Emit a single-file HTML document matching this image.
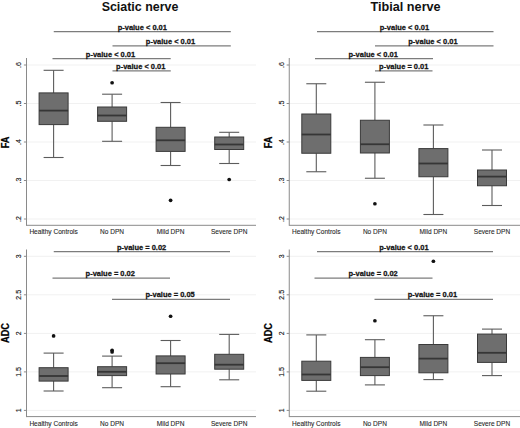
<!DOCTYPE html>
<html><head><meta charset="utf-8"><style>
html,body{margin:0;padding:0;background:#fff;}
svg{display:block;font-family:"Liberation Sans",sans-serif;}
</style></head><body>
<svg width="520" height="428" viewBox="0 0 520 428">
<rect width="520" height="428" fill="#fff"/>
<line x1="27.0" y1="65.0" x2="256" y2="65.0" stroke="#f1f1f1" stroke-width="1"/>
<line x1="23.9" y1="65.0" x2="26.5" y2="65.0" stroke="#8a8a8a" stroke-width="1"/>
<text x="21.1" y="65.0" font-size="7" font-weight="normal" text-anchor="middle" fill="#222" stroke="#222" stroke-width="0.15" transform="rotate(-90 21.1 65.0)">.6</text>
<line x1="27.0" y1="103.5" x2="256" y2="103.5" stroke="#f1f1f1" stroke-width="1"/>
<line x1="23.9" y1="103.5" x2="26.5" y2="103.5" stroke="#8a8a8a" stroke-width="1"/>
<text x="21.1" y="103.5" font-size="7" font-weight="normal" text-anchor="middle" fill="#222" stroke="#222" stroke-width="0.15" transform="rotate(-90 21.1 103.5)">.5</text>
<line x1="27.0" y1="142.0" x2="256" y2="142.0" stroke="#f1f1f1" stroke-width="1"/>
<line x1="23.9" y1="142.0" x2="26.5" y2="142.0" stroke="#8a8a8a" stroke-width="1"/>
<text x="21.1" y="142.0" font-size="7" font-weight="normal" text-anchor="middle" fill="#222" stroke="#222" stroke-width="0.15" transform="rotate(-90 21.1 142.0)">.4</text>
<line x1="27.0" y1="180.5" x2="256" y2="180.5" stroke="#f1f1f1" stroke-width="1"/>
<line x1="23.9" y1="180.5" x2="26.5" y2="180.5" stroke="#8a8a8a" stroke-width="1"/>
<text x="21.1" y="180.5" font-size="7" font-weight="normal" text-anchor="middle" fill="#222" stroke="#222" stroke-width="0.15" transform="rotate(-90 21.1 180.5)">.3</text>
<line x1="27.0" y1="219.0" x2="256" y2="219.0" stroke="#f1f1f1" stroke-width="1"/>
<line x1="23.9" y1="219.0" x2="26.5" y2="219.0" stroke="#8a8a8a" stroke-width="1"/>
<text x="21.1" y="219.0" font-size="7" font-weight="normal" text-anchor="middle" fill="#222" stroke="#222" stroke-width="0.15" transform="rotate(-90 21.1 219.0)">.2</text>
<line x1="26.5" y1="58" x2="26.5" y2="225.8" stroke="#8a8a8a" stroke-width="1"/>
<line x1="26.5" y1="225.3" x2="256" y2="225.3" stroke="#8a8a8a" stroke-width="1"/>
<text x="53.6" y="234.3" font-size="6.55" font-weight="normal" text-anchor="middle" fill="#2a2a2a" stroke="#2a2a2a" stroke-width="0.1" >Healthy Controls</text>
<text x="112.1" y="234.3" font-size="6.55" font-weight="normal" text-anchor="middle" fill="#2a2a2a" stroke="#2a2a2a" stroke-width="0.1" >No DPN</text>
<text x="170.6" y="234.3" font-size="6.55" font-weight="normal" text-anchor="middle" fill="#2a2a2a" stroke="#2a2a2a" stroke-width="0.1" >Mild DPN</text>
<text x="229.2" y="234.3" font-size="6.55" font-weight="normal" text-anchor="middle" fill="#2a2a2a" stroke="#2a2a2a" stroke-width="0.1" >Severe DPN</text>
<line x1="53.6" y1="70.3" x2="53.6" y2="92.9" stroke="#5c5c5c" stroke-width="1.1"/>
<line x1="53.6" y1="124.6" x2="53.6" y2="157.5" stroke="#5c5c5c" stroke-width="1.1"/>
<line x1="43.6" y1="70.3" x2="63.6" y2="70.3" stroke="#5c5c5c" stroke-width="1.1"/>
<line x1="43.6" y1="157.5" x2="63.6" y2="157.5" stroke="#5c5c5c" stroke-width="1.1"/>
<rect x="39.1" y="92.9" width="29.0" height="31.69999999999999" fill="#6e6e6e" stroke="#3a3a3a" stroke-width="1"/>
<line x1="39.1" y1="110.6" x2="68.1" y2="110.6" stroke="#363636" stroke-width="1.8"/>
<line x1="112.1" y1="94.2" x2="112.1" y2="107" stroke="#5c5c5c" stroke-width="1.1"/>
<line x1="112.1" y1="121.3" x2="112.1" y2="141.3" stroke="#5c5c5c" stroke-width="1.1"/>
<line x1="102.1" y1="94.2" x2="122.1" y2="94.2" stroke="#5c5c5c" stroke-width="1.1"/>
<line x1="102.1" y1="141.3" x2="122.1" y2="141.3" stroke="#5c5c5c" stroke-width="1.1"/>
<rect x="97.6" y="107" width="29.0" height="14.299999999999997" fill="#6e6e6e" stroke="#3a3a3a" stroke-width="1"/>
<line x1="97.6" y1="115.5" x2="126.6" y2="115.5" stroke="#363636" stroke-width="1.8"/>
<circle cx="112.1" cy="82.75" r="1.85" fill="#111"/>
<line x1="170.6" y1="102.5" x2="170.6" y2="127.3" stroke="#5c5c5c" stroke-width="1.1"/>
<line x1="170.6" y1="151.4" x2="170.6" y2="165.5" stroke="#5c5c5c" stroke-width="1.1"/>
<line x1="160.6" y1="102.5" x2="180.6" y2="102.5" stroke="#5c5c5c" stroke-width="1.1"/>
<line x1="160.6" y1="165.5" x2="180.6" y2="165.5" stroke="#5c5c5c" stroke-width="1.1"/>
<rect x="156.1" y="127.3" width="29.0" height="24.10000000000001" fill="#6e6e6e" stroke="#3a3a3a" stroke-width="1"/>
<line x1="156.1" y1="140.3" x2="185.1" y2="140.3" stroke="#363636" stroke-width="1.8"/>
<circle cx="170.6" cy="200.3" r="1.85" fill="#111"/>
<line x1="229.2" y1="132.3" x2="229.2" y2="137" stroke="#5c5c5c" stroke-width="1.1"/>
<line x1="229.2" y1="149.5" x2="229.2" y2="163.5" stroke="#5c5c5c" stroke-width="1.1"/>
<line x1="219.2" y1="132.3" x2="239.2" y2="132.3" stroke="#5c5c5c" stroke-width="1.1"/>
<line x1="219.2" y1="163.5" x2="239.2" y2="163.5" stroke="#5c5c5c" stroke-width="1.1"/>
<rect x="214.7" y="137" width="29.0" height="12.5" fill="#6e6e6e" stroke="#3a3a3a" stroke-width="1"/>
<line x1="214.7" y1="144.5" x2="243.7" y2="144.5" stroke="#363636" stroke-width="1.8"/>
<circle cx="229.2" cy="179.5" r="1.85" fill="#111"/>
<line x1="53.75" y1="31.65" x2="230.8" y2="31.65" stroke="#7c7c7c" stroke-width="1.3"/>
<text x="0" y="0" font-size="7.75" font-weight="bold" text-anchor="middle" fill="#111" stroke="#111" stroke-width="0.25" transform="translate(142.3 29.7) scale(0.968 1)">p-value &lt; 0.01</text>
<line x1="112.5" y1="45.9" x2="230.8" y2="45.9" stroke="#7c7c7c" stroke-width="1.3"/>
<text x="0" y="0" font-size="7.75" font-weight="bold" text-anchor="middle" fill="#111" stroke="#111" stroke-width="0.25" transform="translate(170.5 43.95) scale(0.968 1)">p-value &lt; 0.01</text>
<line x1="52.5" y1="58.65" x2="170.7" y2="58.65" stroke="#7c7c7c" stroke-width="1.3"/>
<text x="0" y="0" font-size="7.75" font-weight="bold" text-anchor="middle" fill="#111" stroke="#111" stroke-width="0.25" transform="translate(110.5 56.7) scale(0.968 1)">p-value &lt; 0.01</text>
<line x1="112.5" y1="70.9" x2="170.75" y2="70.9" stroke="#7c7c7c" stroke-width="1.3"/>
<text x="0" y="0" font-size="7.75" font-weight="bold" text-anchor="middle" fill="#111" stroke="#111" stroke-width="0.25" transform="translate(140.75 68.95) scale(0.968 1)">p-value &lt; 0.01</text>
<text x="0" y="0" font-size="9.2" font-weight="bold" text-anchor="middle" fill="#000" stroke="#000" stroke-width="0.2" transform="translate(8.8 142.5) rotate(-90) scale(1,1.1)">FA</text>
<text x="140.0" y="10.8" font-size="12.45" font-weight="bold" text-anchor="middle" fill="#111" >Sciatic nerve</text>
<line x1="289.75" y1="65.0" x2="520" y2="65.0" stroke="#f1f1f1" stroke-width="1"/>
<line x1="286.65" y1="65.0" x2="289.25" y2="65.0" stroke="#8a8a8a" stroke-width="1"/>
<text x="283.85" y="65.0" font-size="7" font-weight="normal" text-anchor="middle" fill="#222" stroke="#222" stroke-width="0.15" transform="rotate(-90 283.85 65.0)">.6</text>
<line x1="289.75" y1="103.5" x2="520" y2="103.5" stroke="#f1f1f1" stroke-width="1"/>
<line x1="286.65" y1="103.5" x2="289.25" y2="103.5" stroke="#8a8a8a" stroke-width="1"/>
<text x="283.85" y="103.5" font-size="7" font-weight="normal" text-anchor="middle" fill="#222" stroke="#222" stroke-width="0.15" transform="rotate(-90 283.85 103.5)">.5</text>
<line x1="289.75" y1="142.0" x2="520" y2="142.0" stroke="#f1f1f1" stroke-width="1"/>
<line x1="286.65" y1="142.0" x2="289.25" y2="142.0" stroke="#8a8a8a" stroke-width="1"/>
<text x="283.85" y="142.0" font-size="7" font-weight="normal" text-anchor="middle" fill="#222" stroke="#222" stroke-width="0.15" transform="rotate(-90 283.85 142.0)">.4</text>
<line x1="289.75" y1="180.5" x2="520" y2="180.5" stroke="#f1f1f1" stroke-width="1"/>
<line x1="286.65" y1="180.5" x2="289.25" y2="180.5" stroke="#8a8a8a" stroke-width="1"/>
<text x="283.85" y="180.5" font-size="7" font-weight="normal" text-anchor="middle" fill="#222" stroke="#222" stroke-width="0.15" transform="rotate(-90 283.85 180.5)">.3</text>
<line x1="289.75" y1="219.0" x2="520" y2="219.0" stroke="#f1f1f1" stroke-width="1"/>
<line x1="286.65" y1="219.0" x2="289.25" y2="219.0" stroke="#8a8a8a" stroke-width="1"/>
<text x="283.85" y="219.0" font-size="7" font-weight="normal" text-anchor="middle" fill="#222" stroke="#222" stroke-width="0.15" transform="rotate(-90 283.85 219.0)">.2</text>
<line x1="289.25" y1="58" x2="289.25" y2="225.8" stroke="#8a8a8a" stroke-width="1"/>
<line x1="289.25" y1="225.3" x2="520" y2="225.3" stroke="#8a8a8a" stroke-width="1"/>
<text x="316.3" y="234.3" font-size="6.55" font-weight="normal" text-anchor="middle" fill="#2a2a2a" stroke="#2a2a2a" stroke-width="0.1" >Healthy Controls</text>
<text x="374.9" y="234.3" font-size="6.55" font-weight="normal" text-anchor="middle" fill="#2a2a2a" stroke="#2a2a2a" stroke-width="0.1" >No DPN</text>
<text x="433.4" y="234.3" font-size="6.55" font-weight="normal" text-anchor="middle" fill="#2a2a2a" stroke="#2a2a2a" stroke-width="0.1" >Mild DPN</text>
<text x="492" y="234.3" font-size="6.55" font-weight="normal" text-anchor="middle" fill="#2a2a2a" stroke="#2a2a2a" stroke-width="0.1" >Severe DPN</text>
<line x1="316.3" y1="83.75" x2="316.3" y2="114" stroke="#5c5c5c" stroke-width="1.1"/>
<line x1="316.3" y1="153.25" x2="316.3" y2="171.75" stroke="#5c5c5c" stroke-width="1.1"/>
<line x1="306.3" y1="83.75" x2="326.3" y2="83.75" stroke="#5c5c5c" stroke-width="1.1"/>
<line x1="306.3" y1="171.75" x2="326.3" y2="171.75" stroke="#5c5c5c" stroke-width="1.1"/>
<rect x="301.8" y="114" width="29.0" height="39.25" fill="#6e6e6e" stroke="#3a3a3a" stroke-width="1"/>
<line x1="301.8" y1="134.5" x2="330.8" y2="134.5" stroke="#363636" stroke-width="1.8"/>
<line x1="374.9" y1="82.25" x2="374.9" y2="120.25" stroke="#5c5c5c" stroke-width="1.1"/>
<line x1="374.9" y1="153" x2="374.9" y2="178.25" stroke="#5c5c5c" stroke-width="1.1"/>
<line x1="364.9" y1="82.25" x2="384.9" y2="82.25" stroke="#5c5c5c" stroke-width="1.1"/>
<line x1="364.9" y1="178.25" x2="384.9" y2="178.25" stroke="#5c5c5c" stroke-width="1.1"/>
<rect x="360.4" y="120.25" width="29.0" height="32.75" fill="#6e6e6e" stroke="#3a3a3a" stroke-width="1"/>
<line x1="360.4" y1="144.25" x2="389.4" y2="144.25" stroke="#363636" stroke-width="1.8"/>
<circle cx="374.9" cy="203.75" r="1.85" fill="#111"/>
<line x1="433.4" y1="125" x2="433.4" y2="148.6" stroke="#5c5c5c" stroke-width="1.1"/>
<line x1="433.4" y1="176.75" x2="433.4" y2="214.5" stroke="#5c5c5c" stroke-width="1.1"/>
<line x1="423.4" y1="125" x2="443.4" y2="125" stroke="#5c5c5c" stroke-width="1.1"/>
<line x1="423.4" y1="214.5" x2="443.4" y2="214.5" stroke="#5c5c5c" stroke-width="1.1"/>
<rect x="418.9" y="148.6" width="29.0" height="28.150000000000006" fill="#6e6e6e" stroke="#3a3a3a" stroke-width="1"/>
<line x1="418.9" y1="163.5" x2="447.9" y2="163.5" stroke="#363636" stroke-width="1.8"/>
<line x1="492" y1="150" x2="492" y2="170" stroke="#5c5c5c" stroke-width="1.1"/>
<line x1="492" y1="185.75" x2="492" y2="205.5" stroke="#5c5c5c" stroke-width="1.1"/>
<line x1="482.0" y1="150" x2="502.0" y2="150" stroke="#5c5c5c" stroke-width="1.1"/>
<line x1="482.0" y1="205.5" x2="502.0" y2="205.5" stroke="#5c5c5c" stroke-width="1.1"/>
<rect x="477.5" y="170" width="29.0" height="15.75" fill="#6e6e6e" stroke="#3a3a3a" stroke-width="1"/>
<line x1="477.5" y1="176.6" x2="506.5" y2="176.6" stroke="#363636" stroke-width="1.8"/>
<line x1="317" y1="31.65" x2="493.5" y2="31.65" stroke="#7c7c7c" stroke-width="1.3"/>
<text x="0" y="0" font-size="7.75" font-weight="bold" text-anchor="middle" fill="#111" stroke="#111" stroke-width="0.25" transform="translate(404.4 29.7) scale(0.968 1)">p-value &lt; 0.01</text>
<line x1="375" y1="45.9" x2="493.5" y2="45.9" stroke="#7c7c7c" stroke-width="1.3"/>
<text x="0" y="0" font-size="7.75" font-weight="bold" text-anchor="middle" fill="#111" stroke="#111" stroke-width="0.25" transform="translate(432.9 43.95) scale(0.968 1)">p-value &lt; 0.01</text>
<line x1="315" y1="58.65" x2="433" y2="58.65" stroke="#7c7c7c" stroke-width="1.3"/>
<text x="0" y="0" font-size="7.75" font-weight="bold" text-anchor="middle" fill="#111" stroke="#111" stroke-width="0.25" transform="translate(373.2 56.7) scale(0.968 1)">p-value &lt; 0.01</text>
<line x1="375" y1="70.9" x2="432.5" y2="70.9" stroke="#7c7c7c" stroke-width="1.3"/>
<text x="0" y="0" font-size="7.75" font-weight="bold" text-anchor="middle" fill="#111" stroke="#111" stroke-width="0.25" transform="translate(403.75 68.95) scale(0.968 1)">p-value = 0.01</text>
<text x="0" y="0" font-size="9.2" font-weight="bold" text-anchor="middle" fill="#000" stroke="#000" stroke-width="0.2" transform="translate(271.55 142.5) rotate(-90) scale(1,1.1)">FA</text>
<text x="405.6" y="10.8" font-size="12.66" font-weight="bold" text-anchor="middle" fill="#111" >Tibial nerve</text>
<line x1="27.0" y1="256.3" x2="256" y2="256.3" stroke="#f1f1f1" stroke-width="1"/>
<line x1="23.9" y1="256.3" x2="26.5" y2="256.3" stroke="#8a8a8a" stroke-width="1"/>
<text x="21.1" y="256.3" font-size="7" font-weight="normal" text-anchor="middle" fill="#222" stroke="#222" stroke-width="0.15" transform="rotate(-90 21.1 256.3)">3</text>
<line x1="27.0" y1="294.8" x2="256" y2="294.8" stroke="#f1f1f1" stroke-width="1"/>
<line x1="23.9" y1="294.8" x2="26.5" y2="294.8" stroke="#8a8a8a" stroke-width="1"/>
<text x="21.1" y="294.8" font-size="7" font-weight="normal" text-anchor="middle" fill="#222" stroke="#222" stroke-width="0.15" transform="rotate(-90 21.1 294.8)">2.5</text>
<line x1="27.0" y1="333.4" x2="256" y2="333.4" stroke="#f1f1f1" stroke-width="1"/>
<line x1="23.9" y1="333.4" x2="26.5" y2="333.4" stroke="#8a8a8a" stroke-width="1"/>
<text x="21.1" y="333.4" font-size="7" font-weight="normal" text-anchor="middle" fill="#222" stroke="#222" stroke-width="0.15" transform="rotate(-90 21.1 333.4)">2</text>
<line x1="27.0" y1="371.9" x2="256" y2="371.9" stroke="#f1f1f1" stroke-width="1"/>
<line x1="23.9" y1="371.9" x2="26.5" y2="371.9" stroke="#8a8a8a" stroke-width="1"/>
<text x="21.1" y="371.9" font-size="7" font-weight="normal" text-anchor="middle" fill="#222" stroke="#222" stroke-width="0.15" transform="rotate(-90 21.1 371.9)">1.5</text>
<line x1="27.0" y1="410.4" x2="256" y2="410.4" stroke="#f1f1f1" stroke-width="1"/>
<line x1="23.9" y1="410.4" x2="26.5" y2="410.4" stroke="#8a8a8a" stroke-width="1"/>
<text x="21.1" y="410.4" font-size="7" font-weight="normal" text-anchor="middle" fill="#222" stroke="#222" stroke-width="0.15" transform="rotate(-90 21.1 410.4)">1</text>
<line x1="26.5" y1="249.5" x2="26.5" y2="417.1" stroke="#8a8a8a" stroke-width="1"/>
<line x1="26.5" y1="416.6" x2="256" y2="416.6" stroke="#8a8a8a" stroke-width="1"/>
<text x="53.6" y="425.6" font-size="6.55" font-weight="normal" text-anchor="middle" fill="#2a2a2a" stroke="#2a2a2a" stroke-width="0.1" >Healthy Controls</text>
<text x="112.1" y="425.6" font-size="6.55" font-weight="normal" text-anchor="middle" fill="#2a2a2a" stroke="#2a2a2a" stroke-width="0.1" >No DPN</text>
<text x="170.6" y="425.6" font-size="6.55" font-weight="normal" text-anchor="middle" fill="#2a2a2a" stroke="#2a2a2a" stroke-width="0.1" >Mild DPN</text>
<text x="229.2" y="425.6" font-size="6.55" font-weight="normal" text-anchor="middle" fill="#2a2a2a" stroke="#2a2a2a" stroke-width="0.1" >Severe DPN</text>
<line x1="53.6" y1="353.1" x2="53.6" y2="367.7" stroke="#5c5c5c" stroke-width="1.1"/>
<line x1="53.6" y1="381.1" x2="53.6" y2="391" stroke="#5c5c5c" stroke-width="1.1"/>
<line x1="43.6" y1="353.1" x2="63.6" y2="353.1" stroke="#5c5c5c" stroke-width="1.1"/>
<line x1="43.6" y1="391" x2="63.6" y2="391" stroke="#5c5c5c" stroke-width="1.1"/>
<rect x="39.1" y="367.7" width="29.0" height="13.400000000000034" fill="#6e6e6e" stroke="#3a3a3a" stroke-width="1"/>
<line x1="39.1" y1="376" x2="68.1" y2="376" stroke="#363636" stroke-width="1.8"/>
<circle cx="53.6" cy="335.9" r="1.85" fill="#111"/>
<line x1="112.1" y1="356.1" x2="112.1" y2="366.7" stroke="#5c5c5c" stroke-width="1.1"/>
<line x1="112.1" y1="375.6" x2="112.1" y2="387.7" stroke="#5c5c5c" stroke-width="1.1"/>
<line x1="102.1" y1="356.1" x2="122.1" y2="356.1" stroke="#5c5c5c" stroke-width="1.1"/>
<line x1="102.1" y1="387.7" x2="122.1" y2="387.7" stroke="#5c5c5c" stroke-width="1.1"/>
<rect x="97.6" y="366.7" width="29.0" height="8.900000000000034" fill="#6e6e6e" stroke="#3a3a3a" stroke-width="1"/>
<line x1="97.6" y1="371.8" x2="126.6" y2="371.8" stroke="#363636" stroke-width="1.8"/>
<circle cx="112.1" cy="350.3" r="1.85" fill="#111"/>
<circle cx="112.1" cy="352" r="1.85" fill="#111"/>
<line x1="170.6" y1="340.5" x2="170.6" y2="355.9" stroke="#5c5c5c" stroke-width="1.1"/>
<line x1="170.6" y1="374" x2="170.6" y2="386.7" stroke="#5c5c5c" stroke-width="1.1"/>
<line x1="160.6" y1="340.5" x2="180.6" y2="340.5" stroke="#5c5c5c" stroke-width="1.1"/>
<line x1="160.6" y1="386.7" x2="180.6" y2="386.7" stroke="#5c5c5c" stroke-width="1.1"/>
<rect x="156.1" y="355.9" width="29.0" height="18.100000000000023" fill="#6e6e6e" stroke="#3a3a3a" stroke-width="1"/>
<line x1="156.1" y1="363.2" x2="185.1" y2="363.2" stroke="#363636" stroke-width="1.8"/>
<circle cx="170.6" cy="316.25" r="1.85" fill="#111"/>
<line x1="229.2" y1="334.4" x2="229.2" y2="354.3" stroke="#5c5c5c" stroke-width="1.1"/>
<line x1="229.2" y1="369.2" x2="229.2" y2="379.8" stroke="#5c5c5c" stroke-width="1.1"/>
<line x1="219.2" y1="334.4" x2="239.2" y2="334.4" stroke="#5c5c5c" stroke-width="1.1"/>
<line x1="219.2" y1="379.8" x2="239.2" y2="379.8" stroke="#5c5c5c" stroke-width="1.1"/>
<rect x="214.7" y="354.3" width="29.0" height="14.899999999999977" fill="#6e6e6e" stroke="#3a3a3a" stroke-width="1"/>
<line x1="214.7" y1="364.7" x2="243.7" y2="364.7" stroke="#363636" stroke-width="1.8"/>
<line x1="53.75" y1="251.65" x2="230" y2="251.65" stroke="#7c7c7c" stroke-width="1.3"/>
<text x="0" y="0" font-size="7.75" font-weight="bold" text-anchor="middle" fill="#111" stroke="#111" stroke-width="0.25" transform="translate(141.6 249.7) scale(0.968 1)">p-value = 0.02</text>
<line x1="52.5" y1="278.15" x2="170" y2="278.15" stroke="#7c7c7c" stroke-width="1.3"/>
<text x="0" y="0" font-size="7.75" font-weight="bold" text-anchor="middle" fill="#111" stroke="#111" stroke-width="0.25" transform="translate(110.25 276.2) scale(0.968 1)">p-value = 0.02</text>
<line x1="112" y1="299.4" x2="230" y2="299.4" stroke="#7c7c7c" stroke-width="1.3"/>
<text x="0" y="0" font-size="7.75" font-weight="bold" text-anchor="middle" fill="#111" stroke="#111" stroke-width="0.25" transform="translate(170.1 297.45) scale(0.968 1)">p-value = 0.05</text>
<text x="0" y="0" font-size="9.2" font-weight="bold" text-anchor="middle" fill="#000" stroke="#000" stroke-width="0.2" transform="translate(8.8 333) rotate(-90) scale(1,1.1)">ADC</text>
<line x1="289.75" y1="256.3" x2="520" y2="256.3" stroke="#f1f1f1" stroke-width="1"/>
<line x1="286.65" y1="256.3" x2="289.25" y2="256.3" stroke="#8a8a8a" stroke-width="1"/>
<text x="283.85" y="256.3" font-size="7" font-weight="normal" text-anchor="middle" fill="#222" stroke="#222" stroke-width="0.15" transform="rotate(-90 283.85 256.3)">3</text>
<line x1="289.75" y1="294.8" x2="520" y2="294.8" stroke="#f1f1f1" stroke-width="1"/>
<line x1="286.65" y1="294.8" x2="289.25" y2="294.8" stroke="#8a8a8a" stroke-width="1"/>
<text x="283.85" y="294.8" font-size="7" font-weight="normal" text-anchor="middle" fill="#222" stroke="#222" stroke-width="0.15" transform="rotate(-90 283.85 294.8)">2.5</text>
<line x1="289.75" y1="333.4" x2="520" y2="333.4" stroke="#f1f1f1" stroke-width="1"/>
<line x1="286.65" y1="333.4" x2="289.25" y2="333.4" stroke="#8a8a8a" stroke-width="1"/>
<text x="283.85" y="333.4" font-size="7" font-weight="normal" text-anchor="middle" fill="#222" stroke="#222" stroke-width="0.15" transform="rotate(-90 283.85 333.4)">2</text>
<line x1="289.75" y1="371.9" x2="520" y2="371.9" stroke="#f1f1f1" stroke-width="1"/>
<line x1="286.65" y1="371.9" x2="289.25" y2="371.9" stroke="#8a8a8a" stroke-width="1"/>
<text x="283.85" y="371.9" font-size="7" font-weight="normal" text-anchor="middle" fill="#222" stroke="#222" stroke-width="0.15" transform="rotate(-90 283.85 371.9)">1.5</text>
<line x1="289.75" y1="410.4" x2="520" y2="410.4" stroke="#f1f1f1" stroke-width="1"/>
<line x1="286.65" y1="410.4" x2="289.25" y2="410.4" stroke="#8a8a8a" stroke-width="1"/>
<text x="283.85" y="410.4" font-size="7" font-weight="normal" text-anchor="middle" fill="#222" stroke="#222" stroke-width="0.15" transform="rotate(-90 283.85 410.4)">1</text>
<line x1="289.25" y1="249.5" x2="289.25" y2="417.1" stroke="#8a8a8a" stroke-width="1"/>
<line x1="289.25" y1="416.6" x2="520" y2="416.6" stroke="#8a8a8a" stroke-width="1"/>
<text x="316.3" y="425.6" font-size="6.55" font-weight="normal" text-anchor="middle" fill="#2a2a2a" stroke="#2a2a2a" stroke-width="0.1" >Healthy Controls</text>
<text x="374.9" y="425.6" font-size="6.55" font-weight="normal" text-anchor="middle" fill="#2a2a2a" stroke="#2a2a2a" stroke-width="0.1" >No DPN</text>
<text x="433.4" y="425.6" font-size="6.55" font-weight="normal" text-anchor="middle" fill="#2a2a2a" stroke="#2a2a2a" stroke-width="0.1" >Mild DPN</text>
<text x="492" y="425.6" font-size="6.55" font-weight="normal" text-anchor="middle" fill="#2a2a2a" stroke="#2a2a2a" stroke-width="0.1" >Severe DPN</text>
<line x1="316.3" y1="334.9" x2="316.3" y2="361.2" stroke="#5c5c5c" stroke-width="1.1"/>
<line x1="316.3" y1="380.4" x2="316.3" y2="391.2" stroke="#5c5c5c" stroke-width="1.1"/>
<line x1="306.3" y1="334.9" x2="326.3" y2="334.9" stroke="#5c5c5c" stroke-width="1.1"/>
<line x1="306.3" y1="391.2" x2="326.3" y2="391.2" stroke="#5c5c5c" stroke-width="1.1"/>
<rect x="301.8" y="361.2" width="29.0" height="19.19999999999999" fill="#6e6e6e" stroke="#3a3a3a" stroke-width="1"/>
<line x1="301.8" y1="374.5" x2="330.8" y2="374.5" stroke="#363636" stroke-width="1.8"/>
<line x1="374.9" y1="339.7" x2="374.9" y2="357.4" stroke="#5c5c5c" stroke-width="1.1"/>
<line x1="374.9" y1="375.6" x2="374.9" y2="384.9" stroke="#5c5c5c" stroke-width="1.1"/>
<line x1="364.9" y1="339.7" x2="384.9" y2="339.7" stroke="#5c5c5c" stroke-width="1.1"/>
<line x1="364.9" y1="384.9" x2="384.9" y2="384.9" stroke="#5c5c5c" stroke-width="1.1"/>
<rect x="360.4" y="357.4" width="29.0" height="18.200000000000045" fill="#6e6e6e" stroke="#3a3a3a" stroke-width="1"/>
<line x1="360.4" y1="367.2" x2="389.4" y2="367.2" stroke="#363636" stroke-width="1.8"/>
<circle cx="374.9" cy="320.75" r="1.85" fill="#111"/>
<line x1="433.4" y1="315.75" x2="433.4" y2="344.5" stroke="#5c5c5c" stroke-width="1.1"/>
<line x1="433.4" y1="372.8" x2="433.4" y2="379.6" stroke="#5c5c5c" stroke-width="1.1"/>
<line x1="423.4" y1="315.75" x2="443.4" y2="315.75" stroke="#5c5c5c" stroke-width="1.1"/>
<line x1="423.4" y1="379.6" x2="443.4" y2="379.6" stroke="#5c5c5c" stroke-width="1.1"/>
<rect x="418.9" y="344.5" width="29.0" height="28.30000000000001" fill="#6e6e6e" stroke="#3a3a3a" stroke-width="1"/>
<line x1="418.9" y1="358.6" x2="447.9" y2="358.6" stroke="#363636" stroke-width="1.8"/>
<circle cx="433.4" cy="261.25" r="1.85" fill="#111"/>
<line x1="492" y1="329.1" x2="492" y2="334.1" stroke="#5c5c5c" stroke-width="1.1"/>
<line x1="492" y1="362.4" x2="492" y2="375.6" stroke="#5c5c5c" stroke-width="1.1"/>
<line x1="482.0" y1="329.1" x2="502.0" y2="329.1" stroke="#5c5c5c" stroke-width="1.1"/>
<line x1="482.0" y1="375.6" x2="502.0" y2="375.6" stroke="#5c5c5c" stroke-width="1.1"/>
<rect x="477.5" y="334.1" width="29.0" height="28.299999999999955" fill="#6e6e6e" stroke="#3a3a3a" stroke-width="1"/>
<line x1="477.5" y1="352.8" x2="506.5" y2="352.8" stroke="#363636" stroke-width="1.8"/>
<line x1="317" y1="251.65" x2="493" y2="251.65" stroke="#7c7c7c" stroke-width="1.3"/>
<text x="0" y="0" font-size="7.75" font-weight="bold" text-anchor="middle" fill="#111" stroke="#111" stroke-width="0.25" transform="translate(403.9 249.7) scale(0.968 1)">p-value &lt; 0.01</text>
<line x1="314.5" y1="278.15" x2="432.5" y2="278.15" stroke="#7c7c7c" stroke-width="1.3"/>
<text x="0" y="0" font-size="7.75" font-weight="bold" text-anchor="middle" fill="#111" stroke="#111" stroke-width="0.25" transform="translate(373.1 276.2) scale(0.968 1)">p-value = 0.02</text>
<line x1="374.5" y1="299.4" x2="493" y2="299.4" stroke="#7c7c7c" stroke-width="1.3"/>
<text x="0" y="0" font-size="7.75" font-weight="bold" text-anchor="middle" fill="#111" stroke="#111" stroke-width="0.25" transform="translate(432.4 297.45) scale(0.968 1)">p-value = 0.01</text>
<text x="0" y="0" font-size="9.2" font-weight="bold" text-anchor="middle" fill="#000" stroke="#000" stroke-width="0.2" transform="translate(271.55 333) rotate(-90) scale(1,1.1)">ADC</text>
</svg></body></html>
